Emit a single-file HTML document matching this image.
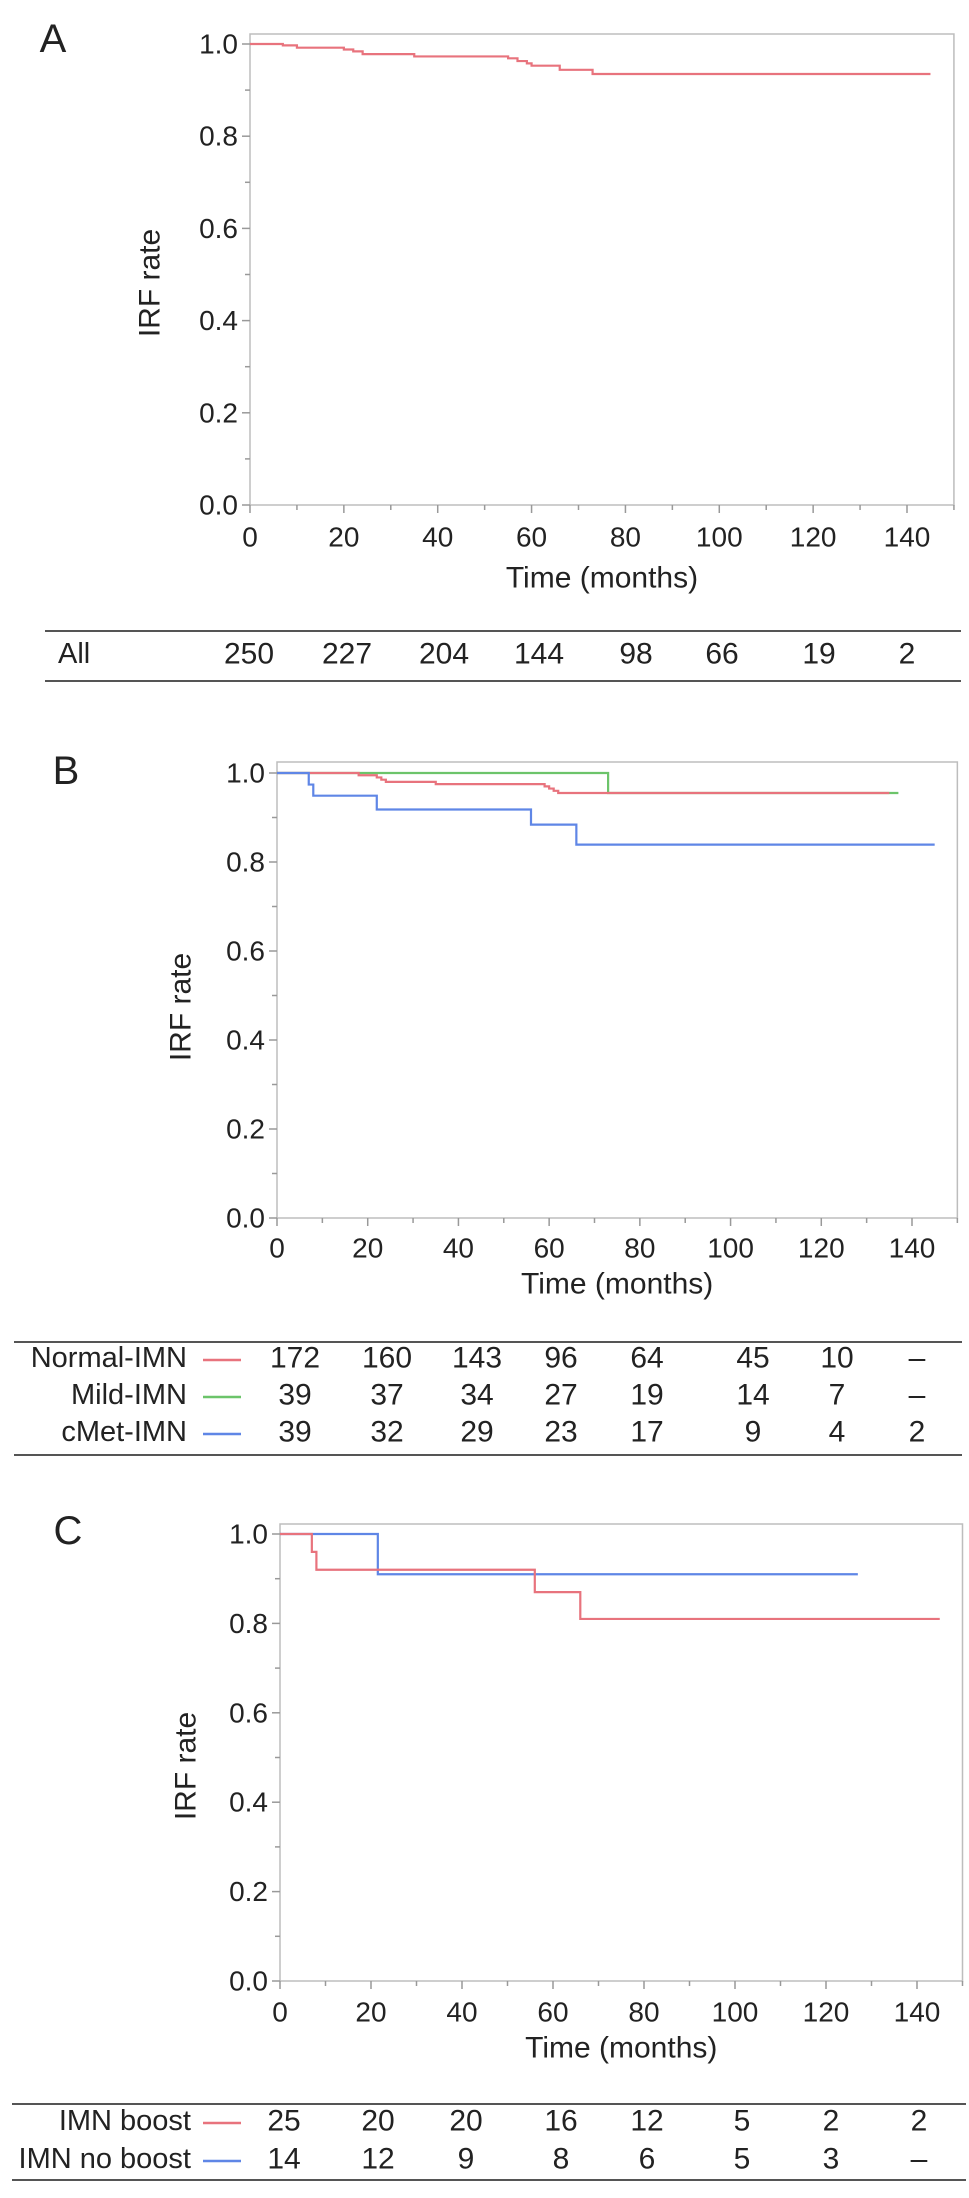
<!DOCTYPE html>
<html><head><meta charset="utf-8"><style>
html,body{margin:0;padding:0;background:#fff}
svg{display:block}
text{font-family:"Liberation Sans",Arial,sans-serif;fill:#222}
</style></head><body>
<svg id="fig" width="969" height="2198" viewBox="0 0 969 2198" xmlns="http://www.w3.org/2000/svg"></svg>
<script>
// ---- data ----
const xTicks=[0,20,40,60,80,100,120,140];
const yTicks=[0.0,0.2,0.4,0.6,0.8,1.0];
const yTickLabels=["0.0","0.2","0.4","0.6","0.8","1.0"];
// Panel A
const aAllT=[0,7,10,20,22,24,35,55,57,59,60,66,73,145];
const aAllS=[1,0.997,0.992,0.988,0.984,0.978,0.973,0.969,0.963,0.958,0.953,0.944,0.935,0.935];
const aRiskAll=["250","227","204","144","98","66","19","2"];
// Panel B
const bNormalT=[0,18,22,23,24,35,59,60,61,62,135];
const bNormalS=[1,0.995,0.99,0.985,0.98,0.975,0.97,0.965,0.96,0.955,0.955];
const bMildT=[0,73,137];
const bMildS=[1,0.955,0.955];
const bCmetT=[0,7,8,22,56,66,145];
const bCmetS=[1,0.974,0.949,0.918,0.884,0.839,0.839];
const bRiskNormal=["172","160","143","96","64","45","10","–"];
const bRiskMild=["39","37","34","27","19","14","7","–"];
const bRiskCmet=["39","32","29","23","17","9","4","2"];
// Panel C
const cBoostT=[0,7,8,56,66,145];
const cBoostS=[1,0.96,0.92,0.87,0.81,0.81];
const cNoBoostT=[0,21.5,127];
const cNoBoostS=[1,0.91,0.91];
const cRiskBoost=["25","20","20","16","12","5","2","2"];
const cRiskNoBoost=["14","12","9","8","6","5","3","–"];

const RED="#e8737d",GREEN="#6cc46a",BLUE="#5f86e6";
const NS="http://www.w3.org/2000/svg";
const svg=document.getElementById('fig');
function mk(tag,attrs,parent){const e=document.createElementNS(NS,tag);for(const k in attrs)e.setAttribute(k,attrs[k]);(parent||svg).appendChild(e);return e;}

function panel(p){
  const g=mk('g',{});
  
  
  const xs=t=>p.x0+(t/140)*(p.x140-p.x0);
  const ys=v=>p.y0-v*(p.y0-p.y1);
  const xR=xs(150);
  const frame=mk('rect',{x:p.x0,y:p.top,width:xR-p.x0,height:p.y0-p.top,fill:'none',stroke:'#bdbdbd','stroke-width':1.5},g);
  
  
  for(let t=0;t<=150;t+=10){mk('line',{x1:xs(t),x2:xs(t),y1:p.y0,y2:p.y0+(t%20===0?8:5),stroke:'#999','stroke-width':1.5},g);}
  for(let v=0;v<=1.0001;v+=0.1){mk('line',{x1:p.x0,x2:p.x0-(Math.round(v*10)%2===0?8:5),y1:ys(v),y2:ys(v),stroke:'#999','stroke-width':1.5},g);}
  xTicks.forEach(t=>{const e=mk('text',{x:xs(t),y:p.xl,'font-size':28,'text-anchor':'middle','dominant-baseline':'central'},g);e.textContent=t;
    
    });
  yTicks.forEach((v,i)=>{const e=mk('text',{x:p.x0-12,y:ys(v),'font-size':28,'text-anchor':'end','dominant-baseline':'central'},g);e.textContent=yTickLabels[i];
    
    });
  const xt=mk('text',{x:(p.x0+xR)/2,y:p.xt,'font-size':30,'text-anchor':'middle','dominant-baseline':'central'},g);xt.textContent='Time (months)';
  
  
  const yt=mk('text',{x:0,y:0,'font-size':30,'text-anchor':'middle','dominant-baseline':'central',transform:`translate(${p.ytx},${p.yty}) rotate(-90)`},g);yt.textContent='IRF rate';
  
  
  const lt=mk('text',{x:p.lx,y:p.ly,'font-size':40,'text-anchor':'middle','dominant-baseline':'central'},g);lt.textContent=p.id;
  
  
  p.series.forEach(s=>{
    let d='M'+xs(s.t[0])+','+ys(s.s[0]);
    for(let i=1;i<s.t.length;i++){d+=' H'+xs(s.t[i])+' V'+ys(s.s[i]);}
    const e=mk('path',{d:d,fill:'none',stroke:s.c,'stroke-width':2.2},g);
    
    
  });
  const tb=mk('g',{},g);
  
  
  mk('line',{x1:p.tl,x2:p.tr,y1:p.tt,y2:p.tt,stroke:'#555','stroke-width':2},tb);
  mk('line',{x1:p.tl,x2:p.tr,y1:p.tbm,y2:p.tbm,stroke:'#555','stroke-width':2},tb);
  p.rows.forEach(r=>{
    const lab=mk('text',{x:r.lx,y:r.y,'font-size':29,'text-anchor':r.anchor,'dominant-baseline':'central'},tb);lab.textContent=r.label;
    
    
    if(r.c){const l=mk('line',{x1:203,x2:241,y1:r.y+2,y2:r.y+2,stroke:r.c,'stroke-width':2.5},tb);
      
      }
    r.vals.forEach((v,i)=>{const e=mk('text',{x:p.cols[i],y:r.y,'font-size':30,'text-anchor':'middle','dominant-baseline':'central'},tb);e.textContent=v;
      
      });
  });
}

panel({id:'A',x0:250,x140:907,top:34,y1:44,y0:505,xl:537,xt:578,ytx:150,yty:283,lx:53,ly:39,
  series:[{t:aAllT,s:aAllS,c:RED,name:'curve-all'}],
  tl:45,tr:961,tt:631,tbm:681,cols:[249,347,444,539,636,722,819,907],
  rows:[{label:'All',lx:58,anchor:'start',y:654,vals:aRiskAll}]});

panel({id:'B',x0:277,x140:912,top:762,y1:773,y0:1218,xl:1248,xt:1284,ytx:181,yty:1007,lx:66,ly:771,
  series:[{t:bMildT,s:bMildS,c:GREEN,name:'curve-mild-imn'},{t:bNormalT,s:bNormalS,c:RED,name:'curve-normal-imn'},{t:bCmetT,s:bCmetS,c:BLUE,name:'curve-cmet-imn'}],
  tl:14,tr:962,tt:1342,tbm:1455,cols:[295,387,477,561,647,753,837,917],
  rows:[{label:'Normal-IMN',lx:187,anchor:'end',y:1358,c:RED,vals:bRiskNormal},
        {label:'Mild-IMN',lx:187,anchor:'end',y:1395,c:GREEN,vals:bRiskMild},
        {label:'cMet-IMN',lx:187,anchor:'end',y:1432,c:BLUE,vals:bRiskCmet}]});

panel({id:'C',x0:280,x140:917,top:1524,y1:1534,y0:1981,xl:2012,xt:2048,ytx:186,yty:1766,lx:68,ly:1531,
  series:[{t:cNoBoostT,s:cNoBoostS,c:BLUE,name:'curve-imn-no-boost'},{t:cBoostT,s:cBoostS,c:RED,name:'curve-imn-boost'}],
  tl:12,tr:966,tt:2104,tbm:2180,cols:[284,378,466,561,647,742,831,919],
  rows:[{label:'IMN boost',lx:191,anchor:'end',y:2121,c:RED,vals:cRiskBoost},
        {label:'IMN no boost',lx:191,anchor:'end',y:2159,c:BLUE,vals:cRiskNoBoost}]});
</script>
</body></html>
